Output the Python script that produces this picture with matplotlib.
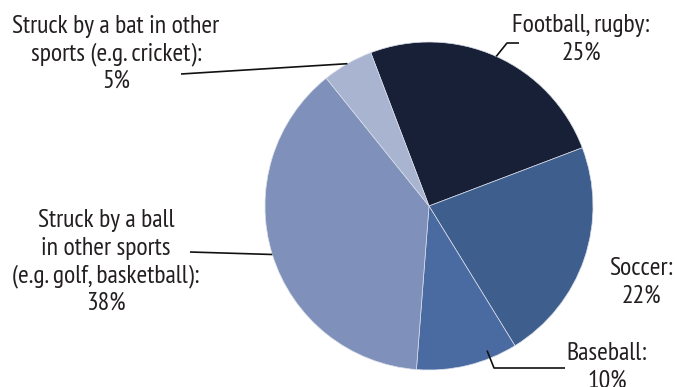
import numpy as np
import matplotlib
matplotlib.use("Agg")
import matplotlib.pyplot as plt
from matplotlib import font_manager as fm

# narrow humanist face for the labels, first one found wins
installed = {f.name for f in fm.fontManager.ttflist}
narrow = [n for n in ["PT Sans Narrow", "Fira Sans Condensed", "Open Sans Condensed",
                      "Roboto Condensed", "Liberation Sans Narrow"] if n in installed]
plt.rcParams["font.family"] = narrow[:1] + ["DejaVu Sans"]

# sports-related head injuries by cause, share of total (%)
categories = ["Football, rugby", "Soccer", "Baseball",
              "Struck by a ball in other sports", "Struck by a bat in other sports"]
shares = [25, 22, 10, 38, 5]
label_lines = [
    ["Football, rugby:", "25%"],
    ["Soccer:", "22%"],
    ["Baseball:", "10%"],
    ["Struck by a ball", "in other sports", "(e.g. golf, basketball):", "38%"],
    ["Struck by a bat in other", "sports (e.g. cricket):", "5%"],
]
colors = ["#172037", "#3e5f8e", "#4a6ba2", "#7f90ba", "#a9b4d1"]

W, H = 677, 387
CX, CY, R = 429, 206, 164
START = 110.8

fig = plt.figure(figsize=(W / 100, H / 100), dpi=100)
ax = fig.add_axes([0, 0, 1, 1])


def px(x, y):
    # pixel position (origin top-left) to data units around the pie centre
    return (x - CX) / R, (CY - y) / R


wedges, _ = ax.pie(shares, colors=colors, startangle=START, counterclock=False,
                   radius=1.0, wedgeprops=dict(edgecolor="#d9dde8", linewidth=0.5))
ax.set_aspect("auto")
ax.set_xlim(-CX / R, (W - CX) / R)
ax.set_ylim(-(H - CY) / R, CY / R)
ax.axis("off")

# label placement: (centre x, first baseline y) in pixels
text_pos = [(581, 32), (641, 275), (607, 360), (106, 227), (116, 33)]
LINE = 27.5
for lines, (tx, ty) in zip(label_lines, text_pos):
    for i, s in enumerate(lines):
        x, y = px(tx, ty + i * LINE)
        ax.text(x, y, s, ha="center", va="baseline", fontsize=18.5, color="#231f20")


# leader lines from wedge edge to label
def edge_point(idx, frac=0.5, r=1.0):
    a0 = START - 360 * sum(shares[:idx]) / 100
    a = np.deg2rad(a0 - 360 * shares[idx] / 100 * frac)
    return r * np.cos(a), r * np.sin(a)


leaders = [
    (0, 0.5, 1.0, [px(507, 43), px(519, 43)]),
    (2, 0.27, 0.95, [px(494, 368), px(565, 368)]),
    (3, 0.5, 1.0, [px(190, 252)]),
    (4, 0.5, 1.0, [px(181, 74)]),
]
for idx, frac, r, pts in leaders:
    xs, ys = zip(edge_point(idx, frac, r), *pts)
    ax.plot(xs, ys, color="#111111", lw=1.2, solid_capstyle="butt")

fig.savefig("out.png", dpi=100)
